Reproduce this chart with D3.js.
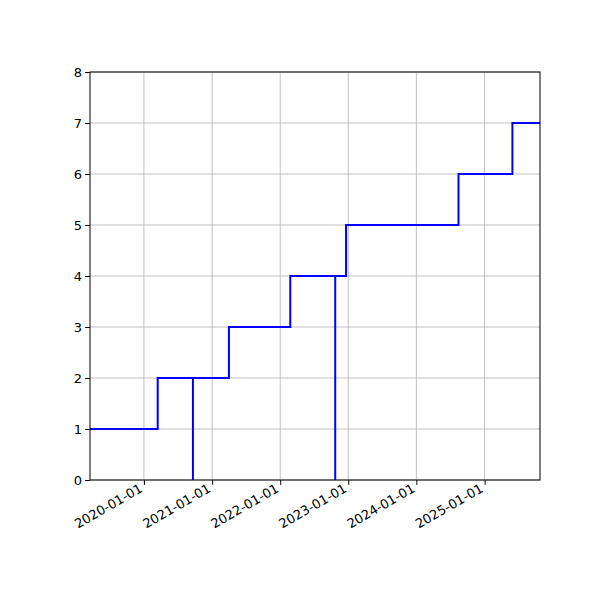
<!DOCTYPE html>
<html><head><meta charset="utf-8">
<script src="https://cdn.jsdelivr.net/npm/d3@7"></script>
<style>body{margin:0;background:#fff}text{font-family:"DejaVu Sans",sans-serif}</style>
</head><body>
<svg id="c" width="600" height="600"></svg>
<script>
const dates = ["2019-03-18","2020-03-15","2020-09-20","2020-09-20","2021-04-01","2022-02-24","2022-10-23","2022-10-23","2022-12-20","2024-08-14","2025-05-30","2025-10-25"];
const values = [1,2,0,2,3,4,0,4,5,6,7,7];
const xTicks = ["2020-01-01","2021-01-01","2022-01-01","2023-01-01","2024-01-01","2025-01-01"];
const yTicks = [0,1,2,3,4,5,6,7,8];

const parse = d3.utcParse("%Y-%m-%d");
const data = dates.map((d,i)=>({x:parse(d),y:values[i]}));
const L=90,R=540,T=72,B=480;
const svg=d3.select("#c");
const x=d3.scaleUtc().domain([parse(dates[0]),parse(dates[dates.length-1])]).range([L,R]);
const y=d3.scaleLinear().domain([0,8]).range([B,T]);

const g=svg.append("g");
g.selectAll(".gx").data(xTicks).join("line").attr("x1",d=>x(parse(d))).attr("x2",d=>x(parse(d))).attr("y1",T).attr("y2",B).attr("stroke","#b0b0b0").attr("stroke-width",0.8);
g.selectAll(".gy").data(yTicks).join("line").attr("y1",d=>y(d)).attr("y2",d=>y(d)).attr("x1",L).attr("x2",R).attr("stroke","#b0b0b0").attr("stroke-width",0.8);

svg.append("path").datum(data).attr("fill","none").attr("stroke","#0000ff").attr("stroke-width",2)
  .attr("d",d3.line().x(d=>x(d.x)).y(d=>y(d.y)).curve(d3.curveStepAfter));

svg.append("rect").attr("x",L).attr("y",T).attr("width",R-L).attr("height",B-T).attr("fill","none").attr("stroke","#000").attr("stroke-width",1);

const xa=svg.append("g").attr("transform",`translate(0,${B})`)
  .call(d3.axisBottom(x).tickValues(xTicks.map(parse)).tickFormat(d3.utcFormat("%Y-%m-%d")).tickSize(4.9).tickSizeOuter(0));
xa.select(".domain").remove();
xa.selectAll("text").attr("font-size",13).attr("fill","#000").attr("text-anchor","end")
  .attr("dy",null).attr("y",0).attr("transform","translate(-1,11) rotate(-30)");
const ya=svg.append("g").attr("transform",`translate(${L},0)`)
  .call(d3.axisLeft(y).tickValues(yTicks).tickFormat(d3.format("d")).tickSize(4.9).tickSizeOuter(0));
ya.select(".domain").remove();
ya.selectAll("text").attr("font-size",13).attr("fill","#000");
</script></body></html>
